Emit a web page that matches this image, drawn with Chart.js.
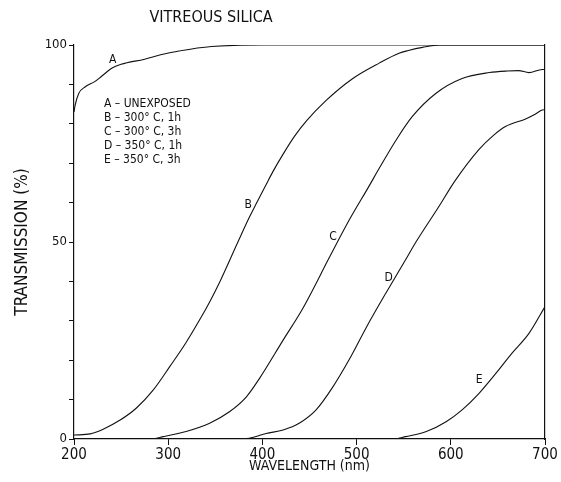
<!DOCTYPE html>
<html lang="en">
<head>
  <meta charset="UTF-8">
  <title>Vitreous silica - transmission</title>
  <script src="https://cdn.jsdelivr.net/npm/chart.js@4"></script>
  <style>
    html, body { margin: 0; padding: 0; background: #fff; }
    #wrap { width: 561px; height: 482px; }
  </style>
</head>
<body>
  <div id="wrap"><canvas id="silicaChart" width="561" height="482"></canvas></div>
  <script>
    // wavelength (nm) / transmission (%)
    const aNm = [200, 201, 205, 212, 222, 229, 240, 250, 275, 293, 310, 325, 346, 370, 400, 450, 500, 550, 600, 650, 700];
    const aT  = [83, 84.5, 87.7, 89.4, 90.7, 92.0, 94.1, 95.1, 96.4, 97.6, 98.4, 99.0, 99.6, 99.9, 100, 100, 100, 100, 100, 100, 100];

    const bNm = [200, 217, 231, 249, 266, 284, 302, 319, 334, 344, 355, 374, 386, 393, 404, 411, 422, 434, 447, 468, 496, 524, 545, 555, 570, 588, 620, 700];
    const bT  = [1.0, 1.3, 2.5, 4.8, 7.8, 12.4, 18.5, 24.5, 30.5, 34.8, 40.0, 50.0, 56.2, 59.5, 64.6, 67.8, 72.3, 76.8, 80.8, 86.0, 91.5, 95.4, 97.9, 98.6, 99.4, 100, 100, 100];

    const cNm = [200, 280, 295, 319, 344, 365, 383, 397, 422, 443, 472, 492, 514, 524, 542, 559, 584, 612, 641, 660, 672, 683, 697, 700];
    const cT  = [0, 0, 0.6, 1.9, 4.0, 6.9, 10.7, 15.4, 25.1, 33.2, 46.5, 55.5, 64.5, 68.7, 75.9, 81.8, 87.7, 91.5, 93.0, 93.4, 93.5, 93.0, 93.8, 93.8];

    const dNm = [200, 370, 386, 404, 422, 439, 457, 475, 492, 510, 531, 552, 563, 586, 605, 630, 645, 658, 680, 690, 697, 700];
    const dT  = [0, 0, 0.2, 1.4, 2.3, 4.0, 7.4, 13.3, 20.1, 28.2, 37.0, 45.5, 50.0, 58.5, 65.7, 73.5, 77.0, 79.3, 81.3, 82.5, 83.5, 83.6];

    const eNm = [200, 540, 552, 574, 595, 612, 630, 648, 665, 683, 700];
    const eT  = [0, 0, 0.6, 1.9, 4.4, 7.4, 11.6, 16.7, 21.8, 26.8, 33.6];

    // letter tags next to each curve (wavelength, transmission)
    const curveTags = ['A', 'B', 'C', 'D', 'E'];
    const tagNm = [241, 385, 475, 534, 630];
    const tagT  = [96.2, 59.4, 51.3, 40.8, 15.0];

    const legendLines = ['A \u2013 UNEXPOSED', 'B \u2013 300\u00b0 C, 1h', 'C \u2013 300\u00b0 C, 3h', 'D \u2013 350\u00b0 C, 1h', 'E \u2013 350\u00b0 C, 3h'];
    const yLabelled = [0, 50, 100];

    const FONT = "'DejaVu Sans Condensed', 'Liberation Sans Narrow', 'DejaVu Sans', sans-serif";
    const INK = '#111';

    function pts(xs, ys) {
      return xs.map((x, i) => ({ x: x, y: ys[i] }));
    }

    function curve(xs, ys) {
      return {
        data: pts(xs, ys),
        borderColor: INK,
        borderWidth: 1.1,
        pointRadius: 0,
        fill: false,
        cubicInterpolationMode: 'monotone'
      };
    }

    // title, curve letters and the key text
    const annotations = {
      id: 'annotations',
      afterDatasetsDraw(chart) {
        const ctx = chart.ctx;
        const xs = chart.scales.x, ys = chart.scales.y;
        ctx.save();
        ctx.fillStyle = INK;
        ctx.textAlign = 'center';
        ctx.textBaseline = 'middle';
        ctx.font = '16px ' + FONT;
        ctx.fillText('VITREOUS SILICA', 211, 18);

        ctx.font = '12px ' + FONT;
        curveTags.forEach((t, i) => {
          ctx.fillText(t, xs.getPixelForValue(tagNm[i]), ys.getPixelForValue(tagT[i]));
        });

        ctx.textAlign = 'left';
        legendLines.forEach((line, i) => {
          ctx.fillText(line, 104, 104 + i * 14);
        });
        ctx.restore();
      }
    };

    new Chart(document.getElementById('silicaChart'), {
      type: 'line',
      data: {
        datasets: [curve(aNm, aT), curve(bNm, bT), curve(cNm, cT), curve(dNm, dT), curve(eNm, eT)]
      },
      options: {
        responsive: false,
        animation: false,
        layout: { padding: { top: 45 } },
        plugins: {
          legend: { display: false },
          tooltip: { enabled: false }
        },
        scales: {
          x: {
            type: 'linear',
            min: 200,
            max: 700,
            afterFit(scale) { scale.height = 43; },
            ticks: { stepSize: 100, color: INK, font: { family: FONT, size: 15 }, padding: 1, maxRotation: 0 },
            grid: { drawOnChartArea: false, drawTicks: true, tickLength: 6, color: INK },
            border: { display: true, color: INK, width: 1.2 },
            title: { display: true, text: 'WAVELENGTH (nm)', color: INK, font: { family: FONT, size: 14 }, padding: { top: 0, bottom: 7 } }
          },
          y: {
            min: 0,
            max: 100,
            afterFit(scale) { scale.width = 74; },
            ticks: {
              stepSize: 10,
              color: INK,
              font: { family: FONT, size: 13 },
              padding: 2,
              callback: v => yLabelled.includes(v) ? v : ''
            },
            grid: { drawOnChartArea: false, drawTicks: true, tickLength: 5, color: INK },
            border: { display: true, color: INK, width: 1.2 },
            title: { display: true, text: 'TRANSMISSION (%)', color: INK, font: { family: FONT, size: 17 }, padding: { top: 12, bottom: 0 } }
          },
          y2: {
            position: 'right',
            min: 0,
            max: 100,
            afterFit(scale) { scale.width = 16; },
            ticks: { display: false },
            grid: { display: false },
            border: { display: true, color: INK, width: 1.2 }
          }
        }
      },
      plugins: [annotations]
    });
  </script>
</body>
</html>
